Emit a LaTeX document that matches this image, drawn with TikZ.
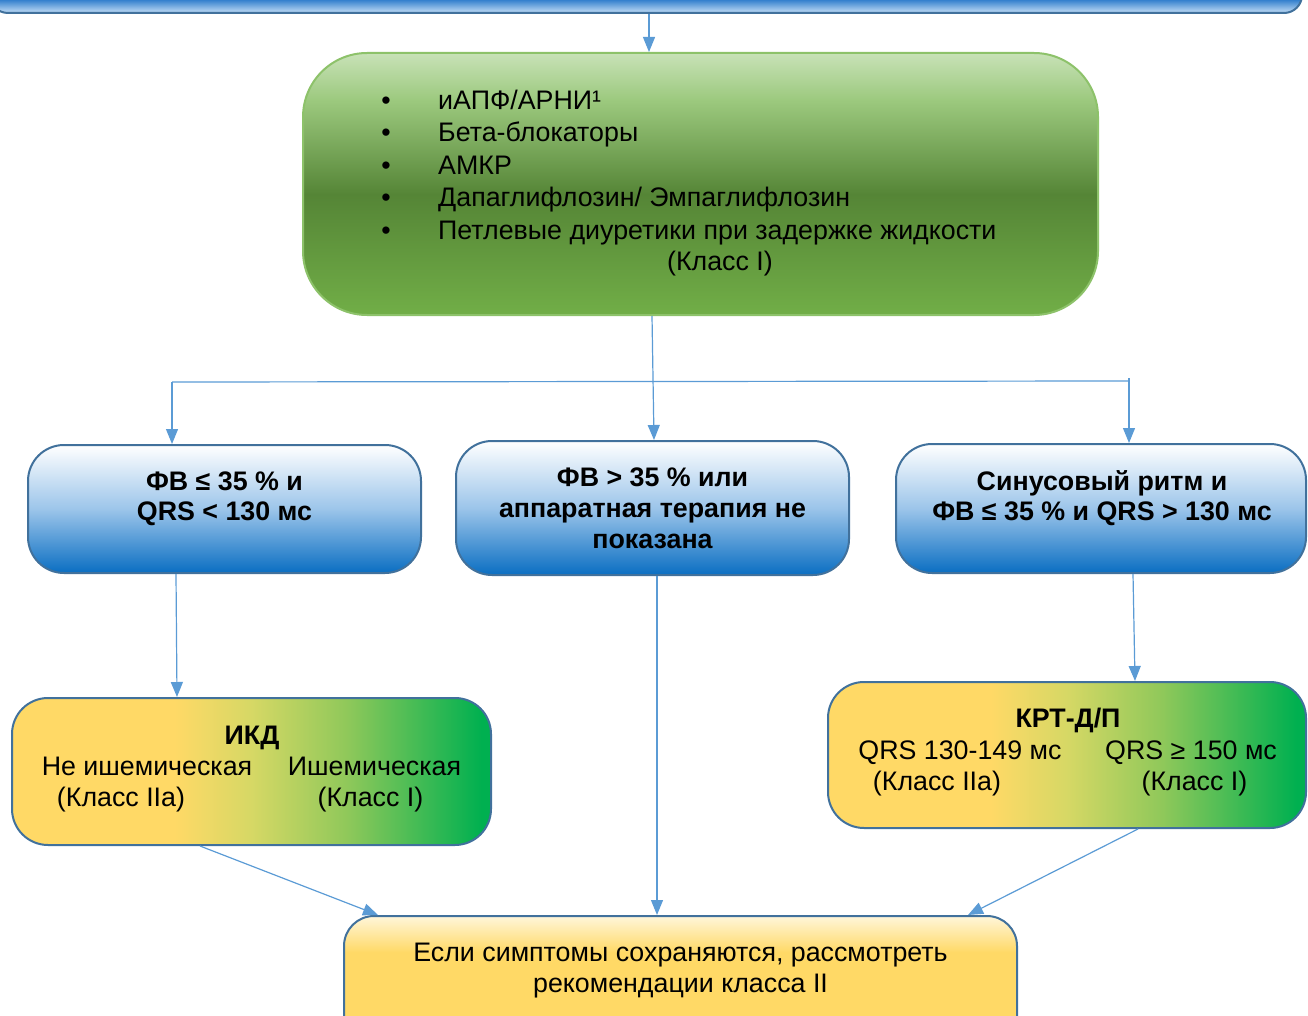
\documentclass[tikz,border=0pt]{standalone}
\usepackage{fontspec}
\setmainfont{Liberation Sans}
\usetikzlibrary{arrows.meta}
\definecolor{arrowblue}{HTML}{5B9BD5}
\definecolor{boxedge}{HTML}{41719C}
\definecolor{greenedge}{HTML}{8DC26A}
\definecolor{bBot}{HTML}{0A6EC2}
\definecolor{bMid}{HTML}{9CC5EA}
\definecolor{gTop}{HTML}{C8E2B7}
\definecolor{gUp}{HTML}{9CC97E}
\definecolor{gMid}{HTML}{558536}
\definecolor{gBot}{HTML}{71AE47}
\definecolor{yel}{HTML}{FFD966}
\definecolor{yelg}{HTML}{D6D865}
\definecolor{lgr}{HTML}{8FC85A}
\definecolor{dgr}{HTML}{00B050}
\definecolor{ytop}{HTML}{FFF6DA}
\definecolor{banTop}{HTML}{2476C9}
\definecolor{banBot}{HTML}{A8CCEE}
\pgfdeclareverticalshading{blueshade}{100bp}{color(0bp)=(bBot); color(25bp)=(bBot); color(50bp)=(bMid); color(75bp)=(white); color(100bp)=(white)}
\pgfdeclareverticalshading{greenshade}{100bp}{color(0bp)=(gBot); color(25bp)=(gBot); color(48bp)=(gMid); color(66bp)=(gUp); color(75bp)=(gTop); color(100bp)=(gTop)}
\pgfdeclarehorizontalshading{ygshade}{100bp}{color(0bp)=(yel); color(42bp)=(yel); color(50bp)=(yelg); color(60bp)=(lgr); color(74bp)=(dgr); color(100bp)=(dgr)}
\pgfdeclareverticalshading{yshade}{100bp}{color(0bp)=(yel); color(62bp)=(yel); color(75bp)=(ytop); color(100bp)=(ytop)}
\pgfdeclareverticalshading{banshade}{100bp}{color(0bp)=(banBot); color(27bp)=(banBot); color(36bp)=(banTop); color(100bp)=(banTop)}
\begin{document}
\begin{tikzpicture}[x=1pt,y=-1pt,
  arr/.style={draw=arrowblue, line width=1.2pt, -{Triangle[width=12pt,length=15pt]}},
  conn/.style={draw=arrowblue, line width=1.2pt},
  boxbase/.style={draw=boxedge, line width=2pt, inner sep=0pt},
  bluebox/.style={boxbase, rounded corners=36pt, shading=blueshade},
  ygbox/.style={boxbase, rounded corners=36pt, shading=ygshade},
  txt/.style={font=\fontsize{26.8}{31}\selectfont, inner sep=0pt, anchor=base},
  btxt/.style={txt, font=\fontsize{26.8}{31}\selectfont\bfseries},
  ltxt/.style={txt, anchor=base west},
  bul/.style={txt, anchor=base}
]
\useasboundingbox (0,0) rectangle (1308,1016);
\begin{scope}
\clip (0,0) rectangle (1308,1016);
% top banner
\node[boxbase, rounded corners=18pt, shading=banshade, minimum width=1312pt, minimum height=66pt] (banner) at (646,-20) {};
% green box
\node[draw=greenedge, line width=2pt, inner sep=0pt, rounded corners=64pt, shading=greenshade, minimum width=795pt, minimum height=262pt] (green) at (700.5,184) {};
% blue boxes
\node[bluebox, minimum width=393pt, minimum height=128pt] (left) at (224.5,509) {};
\node[bluebox, minimum width=393pt, minimum height=134pt] (mid) at (652.5,508) {};
\node[bluebox, minimum width=410pt, minimum height=129pt] (right) at (1101,508.5) {};
% ICD and CRT
\node[ygbox, minimum width=479pt, minimum height=147pt] (icd) at (251.5,771.5) {};
\node[ygbox, minimum width=478pt, minimum height=146pt] (crt) at (1067,755) {};
% bottom
\node[boxbase, rounded corners=30pt, shading=yshade, minimum width=673pt, minimum height=140pt] (final) at (680.5,986) {};
\end{scope}

% green box text
\node[bul] (b1) at (386,109.5) {\textbullet};
\node[bul] (b2) at (386,141.5) {\textbullet};
\node[bul] (b3) at (386,174.5) {\textbullet};
\node[bul] (b4) at (386,206.5) {\textbullet};
\node[bul] (b5) at (386,239.5) {\textbullet};
\node[ltxt] (g1) at (438,109.5) {иАПФ/АРНИ¹};
\node[ltxt] (g2) at (438,141.5) {Бета-блокаторы};
\node[ltxt] (g3) at (438,174.5) {АМКР};
\node[ltxt] (g4) at (438,206.5) {Дапаглифлозин/ Эмпаглифлозин};
\node[ltxt] (g5) at (438,239.5) {Петлевые диуретики при задержке жидкости};
\node[txt] (g6) at (720,270.5) {(Класс I)};

% blue box texts
\node[btxt] (l1) at (224.5,490.5) {ФВ ≤ 35 \% и};
\node[btxt] (l2) at (224.5,520.5) {QRS < 130 мс};
\node[btxt] (m1) at (652.5,486.5) {ФВ > 35 \% или};
\node[btxt] (m2) at (652.5,517.5) {аппаратная терапия не};
\node[btxt] (m3) at (652.5,548.5) {показана};
\node[btxt] (r1) at (1102,490.5) {Синусовый ритм и};
\node[btxt] (r2) at (1102,520.5) {ФВ ≤ 35 \% и QRS > 130 мс};

% ICD texts
\node[btxt] (i0) at (252,744.5) {ИКД};
\node[txt] (i1) at (147,775.5) {Не ишемическая};
\node[txt] (i2) at (121,806.5) {(Класс IIa)};
\node[txt] (i3) at (374.5,775.5) {Ишемическая};
\node[txt] (i4) at (370.5,806.5) {(Класс I)};

% CRT texts
\node[btxt] (c0) at (1068,727.5) {КРТ-Д/П};
\node[txt] (c1) at (960,759.5) {QRS 130-149 мс};
\node[txt] (c2) at (937,790.5) {(Класс IIa)};
\node[txt] (c3) at (1191,759.5) {QRS ≥ 150 мс};
\node[txt] (c4) at (1194.5,790.5) {(Класс I)};

% final texts
\node[txt] (f1) at (680.5,961.5) {Если симптомы сохраняются, рассмотреть};
\node[txt] (f2) at (680.5,992.5) {рекомендации класса II};

% connectors
\coordinate (hl) at (172,382);
\coordinate (hr) at (1129,381);
\coordinate (hrt) at (1129,378);
\draw[arr] (banner.south -| 649,0) -- (green.north -| 649,0);
\draw[arr] (green.south -| 652,0) -- (mid.north -| 654,0);
\draw[conn] (hl) -- (hr);
\draw[arr] (hl) -- (left.north -| hl);
\draw[arr] (hrt) -- (right.north -| hr);
\draw[arr] (left.south -| 176,0) -- (icd.north -| 177,0);
\draw[arr] (right.south -| 1133,0) -- (crt.north -| 1135,0);
\draw[arr] (mid.south -| 657,0) -- (final.north -| 657,0);
\draw[arr] (icd.south -| 200,0) -- (final.north -| 378,0);
\draw[arr] (crt.south -| 1138,0) -- (final.north -| 968,0);
\end{tikzpicture}
\end{document}
